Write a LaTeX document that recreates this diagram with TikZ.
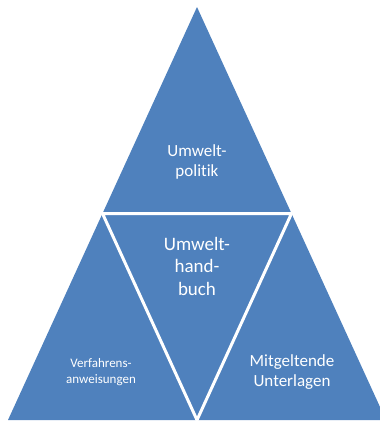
\documentclass[tikz,border=0pt]{standalone}
\usepackage{fontspec}
\setmainfont[Ligatures={NoCommon}]{Carlito}
\usetikzlibrary{calc}
\definecolor{officeblue}{HTML}{4F81BD}
\begin{document}
\begin{tikzpicture}[x=1pt,y=-1pt,
  lbl/.style={text=white,align=center,inner sep=0pt},
  sep/.style={draw=white,line width=3pt,line join=miter}]
\useasboundingbox (0,0) rectangle (380,421);
\coordinate (A) at (197,7);
\coordinate (BL) at (8,420);
\coordinate (BR) at (386,420);
\coordinate (ML) at ($(A)!0.5!(BL)$);
\coordinate (MR) at ($(A)!0.5!(BR)$);
\coordinate (MB) at ($(BL)!0.5!(BR)$);
\fill[officeblue] (A) -- (BL) -- (BR) -- cycle;
\draw[sep] (ML) -- (MR) -- (MB) -- cycle;
\node[lbl,font=\fontsize{17}{20}\selectfont] (top) at (197,162) {Umwelt-\\politik};
\node[lbl,font=\fontsize{19}{22.5}\selectfont] (mid) at (197,266) {Umwelt-\\hand-\\buch};
\node[lbl,font=\fontsize{13}{16}\selectfont] (left) at (101,372) {Verfahrens-\\anweisungen};
\node[lbl,font=\fontsize{17}{20}\selectfont] (right) at (292,372) {Mitgeltende\\Unterlagen};
\end{tikzpicture}
\end{document}
